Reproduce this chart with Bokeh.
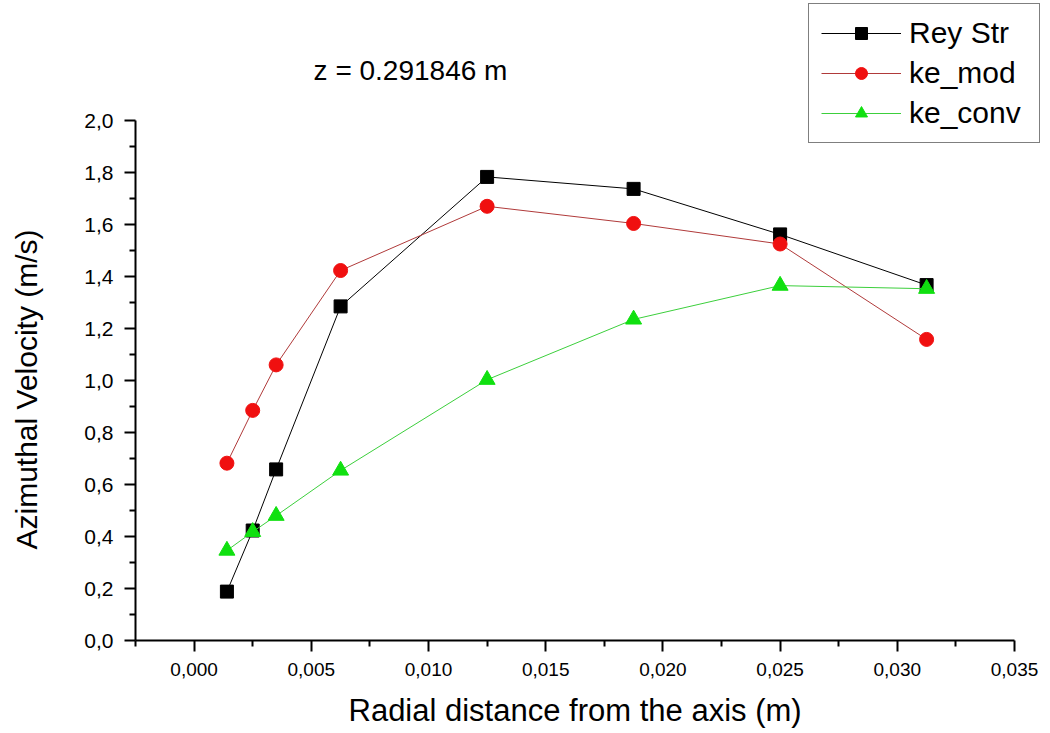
from bokeh.plotting import figure
from bokeh.models import (FixedTicker, CustomJSTickFormatter, Legend, LegendItem,
                          Label, Range1d, Title, LinearAxis)
from bokeh.embed import file_html
from bokeh.resources import INLINE

# ---- data ----
radius = [0.0014, 0.0025, 0.0035, 0.00625, 0.0125, 0.01875, 0.025, 0.03125]
rey_str = [0.188, 0.423, 0.658, 1.285, 1.783, 1.737, 1.562, 1.367]
ke_mod = [0.682, 0.885, 1.060, 1.423, 1.670, 1.604, 1.525, 1.158]
ke_conv = [0.346, 0.418, 0.480, 0.654, 1.003, 1.235, 1.365, 1.353]

x_major = [0.0, 0.005, 0.010, 0.015, 0.020, 0.025, 0.030, 0.035]
x_minor = [-0.0025, 0.0025, 0.0075, 0.0125, 0.0175, 0.0225, 0.0275, 0.0325]
y_major = [0.0, 0.2, 0.4, 0.6, 0.8, 1.0, 1.2, 1.4, 1.6, 1.8, 2.0]
y_minor = [0.1, 0.3, 0.5, 0.7, 0.9, 1.1, 1.3, 1.5, 1.7, 1.9]
x_axis_bounds = (-0.0025, 0.035)
y_axis_bounds = (0.0, 2.0)

title_text = "z = 0.291846 m"
x_label = "Radial distance from the axis (m)"
y_label = "Azimuthal Velocity (m/s)"

FONT = "Liberation Sans"

# The frame covers the canvas above / right of the axes so that the legend and
# the title annotation are not clipped; the axes themselves stop at their bounds.
FRAME_LEFT, FRAME_BOTTOM = 135, 640
AX_RIGHT_PX, AX_TOP_PX = 1014, 120
x_per_px = (x_axis_bounds[1] - x_axis_bounds[0]) / (AX_RIGHT_PX - FRAME_LEFT)
y_per_px = (y_axis_bounds[1] - y_axis_bounds[0]) / (FRAME_BOTTOM - AX_TOP_PX)
x_end = x_axis_bounds[0] + (1050 - FRAME_LEFT) * x_per_px
y_end = y_axis_bounds[0] + FRAME_BOTTOM * y_per_px

p = figure(width=1050, height=733, output_backend="svg", toolbar_location=None,
           x_range=Range1d(x_axis_bounds[0], x_end),
           y_range=Range1d(y_axis_bounds[0], y_end),
           min_border_left=FRAME_LEFT, min_border_right=0, min_border_top=0,
           min_border_bottom=733 - FRAME_BOTTOM)
p.outline_line_color = None
p.grid.visible = False
p.background_fill_color = "white"
p.border_fill_color = "white"

# axes
for ax in (p.xaxis[0], p.yaxis[0]):
    ax.axis_line_width = 2
    ax.axis_line_color = "black"
    ax.major_tick_line_width = 2
    ax.minor_tick_line_width = 2
    ax.major_tick_in = 0
    ax.minor_tick_in = 0
    ax.major_tick_out = 11
    ax.minor_tick_out = 6
    ax.major_label_text_font = FONT
    ax.major_label_text_color = "black"

p.xaxis[0].bounds = x_axis_bounds
p.yaxis[0].bounds = y_axis_bounds
p.xaxis[0].major_label_text_font_size = "19px"
p.yaxis[0].major_label_text_font_size = "21px"
p.xaxis[0].ticker = FixedTicker(ticks=x_major, minor_ticks=x_minor)
p.yaxis[0].ticker = FixedTicker(ticks=y_major, minor_ticks=y_minor)
p.xaxis[0].formatter = CustomJSTickFormatter(code="return tick.toFixed(3).replace('.', ',');")
p.yaxis[0].formatter = CustomJSTickFormatter(code="return tick.toFixed(1).replace('.', ',');")
p.xaxis[0].major_label_standoff = 11
p.yaxis[0].major_label_standoff = 11


def spacer_axis(tick_pos, size):
    # blank axis (white tick in empty space, no label) used only to reserve room
    return LinearAxis(ticker=FixedTicker(ticks=[tick_pos], minor_ticks=[]),
                      formatter=CustomJSTickFormatter(code="return '';"),
                      axis_line_color=None, major_tick_line_color="white",
                      minor_tick_line_color=None, major_tick_in=0,
                      major_tick_out=size, minor_tick_in=0, minor_tick_out=0,
                      major_label_standoff=0, major_label_text_font_size="1px")


p.add_layout(spacer_axis(2.3, 38), "left")
p.add_layout(spacer_axis(0.0357, 10), "below")

# axis labels as titles (so they can be placed like the reference's)
y_title = Title(text=y_label, align="left", offset=91, standoff=0,
                vertical_align="middle", text_font=FONT, text_font_size="30px",
                text_font_style="normal", text_color="black")
p.add_layout(y_title, "left")
x_title = Title(text=x_label, align="left", offset=213, standoff=4,
                vertical_align="bottom", text_font=FONT, text_font_size="31px",
                text_font_style="normal", text_color="black")
p.add_layout(x_title, "below")

# series
l1 = p.line(radius, rey_str, line_color="black", line_width=1)
s1 = p.scatter(radius, rey_str, marker="square", size=13, fill_color="black", line_color="black")
l2 = p.line(radius, ke_mod, line_color="#b03a3a", line_width=1)
s2 = p.scatter(radius, ke_mod, marker="circle", size=14, fill_color="#f01010", line_color="#f01010")
l3 = p.line(radius, ke_conv, line_color="#3ccf3c", line_width=1)
s3 = p.scatter(radius, ke_conv, marker="triangle", size=16, fill_color="#10e010", line_color="#10e010")

legend = Legend(items=[LegendItem(label="Rey Str", renderers=[l1, s1]),
                       LegendItem(label="ke_mod", renderers=[l2, s2]),
                       LegendItem(label="ke_conv", renderers=[l3, s3])],
                location=(673, 497), orientation="vertical",
                border_line_color="black", border_line_width=1.5,
                background_fill_color="white", background_fill_alpha=1.0,
                padding=12, spacing=6, margin=0,
                glyph_width=80, glyph_height=30, label_standoff=8,
                label_width=118,
                label_text_font=FONT, label_text_font_size="30px",
                label_text_color="black")
p.add_layout(legend, "center")

title = Label(x=275, y=570, x_units="screen", y_units="screen", text=title_text,
              text_font=FONT, text_font_size="28px", text_color="black",
              text_align="center", text_baseline="middle")
p.add_layout(title)

open("out.html", "w").write(file_html(p, INLINE))
